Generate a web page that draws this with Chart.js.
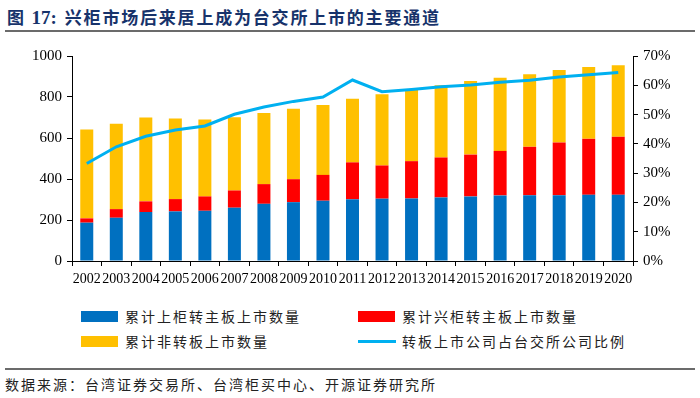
<!DOCTYPE html>
<html>
<head>
<meta charset="utf-8">
<script src="https://cdn.jsdelivr.net/npm/chart.js@4"></script>
<style>
  html, body { margin: 0; padding: 0; background: #fff; }
  body { width: 700px; height: 398px; position: relative; overflow: hidden;
         font-family: "Noto Sans CJK SC", sans-serif; }
  #title { position: absolute; left: 7px; top: 4px; font-size: 17px; font-weight: bold;
           color: #17336b; letter-spacing: 1.8px; white-space: nowrap; }
  #title .num { font-family: "Liberation Serif", serif; font-size: 19px; letter-spacing: 0; margin-right: 8px; }
  #rule-top { position: absolute; left: 5px; right: 5px; top: 30px; height: 2px; background: #6b6b6b; }
  #chart { position: absolute; left: 0; top: 40px; }
  .lg { position: absolute; font-size: 14px; letter-spacing: 2px; color: #222; white-space: nowrap; line-height: 16px; }
  .sw { position: absolute; width: 37px; height: 11px; }
  .ln { position: absolute; width: 38px; height: 3px; background: #00b0f0; }
  #rule-bot { position: absolute; left: 5px; right: 5px; top: 368px; height: 2px; background: #6b6b6b; }
  #source { position: absolute; left: 5px; top: 376px; font-size: 14px; letter-spacing: 2px;
            color: #222; white-space: nowrap; line-height: 16px; }
</style>
</head>
<body>
<div id="title">图 <span class="num">17:</span>兴柜市场后来居上成为台交所上市的主要通道</div>
<div id="rule-top"></div>
<canvas id="chart" width="700" height="255"></canvas>

<div class="sw" style="left:81px;top:311px;background:#0070c0"></div>
<div class="lg" style="left:125px;top:308px">累计上柜转主板上市数量</div>
<div class="sw" style="left:358px;top:311px;background:#ff0000"></div>
<div class="lg" style="left:402px;top:308px">累计兴柜转主板上市数量</div>
<div class="sw" style="left:81px;top:336px;background:#ffc000"></div>
<div class="lg" style="left:125px;top:333px">累计非转板上市数量</div>
<div class="ln" style="left:358px;top:340px"></div>
<div class="lg" style="left:402px;top:333px">转板上市公司占台交所公司比例</div>

<div id="rule-bot"></div>
<div id="source">数据来源：台湾证券交易所、台湾柜买中心、开源证券研究所</div>

<script>
/* ── Data ──────────────────────────────────────────────────────── */
const years = ['2002','2003','2004','2005','2006','2007','2008','2009','2010','2011',
               '2012','2013','2014','2015','2016','2017','2018','2019','2020'];
// 累计上柜转主板上市数量
const otcTransfer = [187, 211, 239, 242, 245, 260, 279, 287, 294, 301,
                     304, 305, 310, 315, 320, 321, 321, 323, 323];
// 累计兴柜转主板上市数量
const emergingTransfer = [21, 42, 52, 60, 70, 84, 96, 112, 126, 180,
                          162, 182, 195, 204, 217, 236, 257, 273, 283];
// 累计非转板上市数量
const nonTransfer = [433, 417, 409, 393, 375, 357, 347, 344, 341, 311,
                     347, 349, 352, 359, 357, 354, 354, 350, 349];
// 转板上市公司占台交所公司比例 (%)
const transferShare = [33.3, 39.0, 42.6, 44.7, 46.1, 50.1, 52.6, 54.5, 56.0, 61.8,
                       57.8, 58.6, 59.5, 60.1, 61.0, 61.7, 62.8, 63.6, 64.4];

const leftTicks = [0, 200, 400, 600, 800, 1000];
const rightTicks = [0, 10, 20, 30, 40, 50, 60, 70];

/* ── Chart ─────────────────────────────────────────────────────── */
const tickFont = { family: '"Liberation Serif", "Times New Roman", serif', size: 15 };
const barCommon = { stack: 'a', yAxisID: 'y', categoryPercentage: 1, barPercentage: 0.44, order: 1 };

new Chart(document.getElementById('chart'), {
  type: 'bar',
  data: {
    labels: years,
    datasets: [
      { ...barCommon, label: '累计上柜转主板上市数量', data: otcTransfer, backgroundColor: '#0070c0' },
      { ...barCommon, label: '累计兴柜转主板上市数量', data: emergingTransfer, backgroundColor: '#ff0000' },
      { ...barCommon, label: '累计非转板上市数量', data: nonTransfer, backgroundColor: '#ffc000' },
      {
        type: 'line', label: '转板上市公司占台交所公司比例', data: transferShare,
        yAxisID: 'y1', borderColor: '#00b0f0', borderWidth: 3, pointRadius: 0,
        tension: 0, fill: false, order: 0
      }
    ]
  },
  options: {
    responsive: false,
    animation: false,
    layout: { padding: { top: 16, left: 0, right: 0, bottom: 0 } },
    plugins: { legend: { display: false }, tooltip: { enabled: false } },
    scales: {
      x: {
        stacked: true,
        grid: { drawOnChartArea: false, drawTicks: true, tickLength: 5, color: '#000', offset: true },
        border: { color: '#000', width: 1 },
        ticks: { autoSkip: false, maxRotation: 0, minRotation: 0, padding: 5, color: '#000',
                 font: { family: tickFont.family, size: 14 } },
        afterFit: s => { s.height = 34; }
      },
      y: {
        stacked: true, position: 'left', min: 0, max: 1000,
        afterBuildTicks: s => { s.ticks = leftTicks.map(v => ({ value: v })); },
        grid: { drawOnChartArea: false, tickLength: 5, color: '#000' },
        border: { color: '#000', width: 1 },
        ticks: { padding: 5, color: '#000', font: tickFont, callback: v => String(v) },
        afterFit: s => { s.width = 72; }
      },
      y1: {
        position: 'right', min: 0, max: 70,
        afterBuildTicks: s => { s.ticks = rightTicks.map(v => ({ value: v })); },
        grid: { drawOnChartArea: false, tickLength: 5, color: '#000' },
        border: { color: '#000', width: 1 },
        ticks: { padding: 5, color: '#000', font: tickFont, callback: v => v + '%' },
        afterFit: s => { s.width = 67; }
      }
    }
  }
});
</script>
</body>
</html>
